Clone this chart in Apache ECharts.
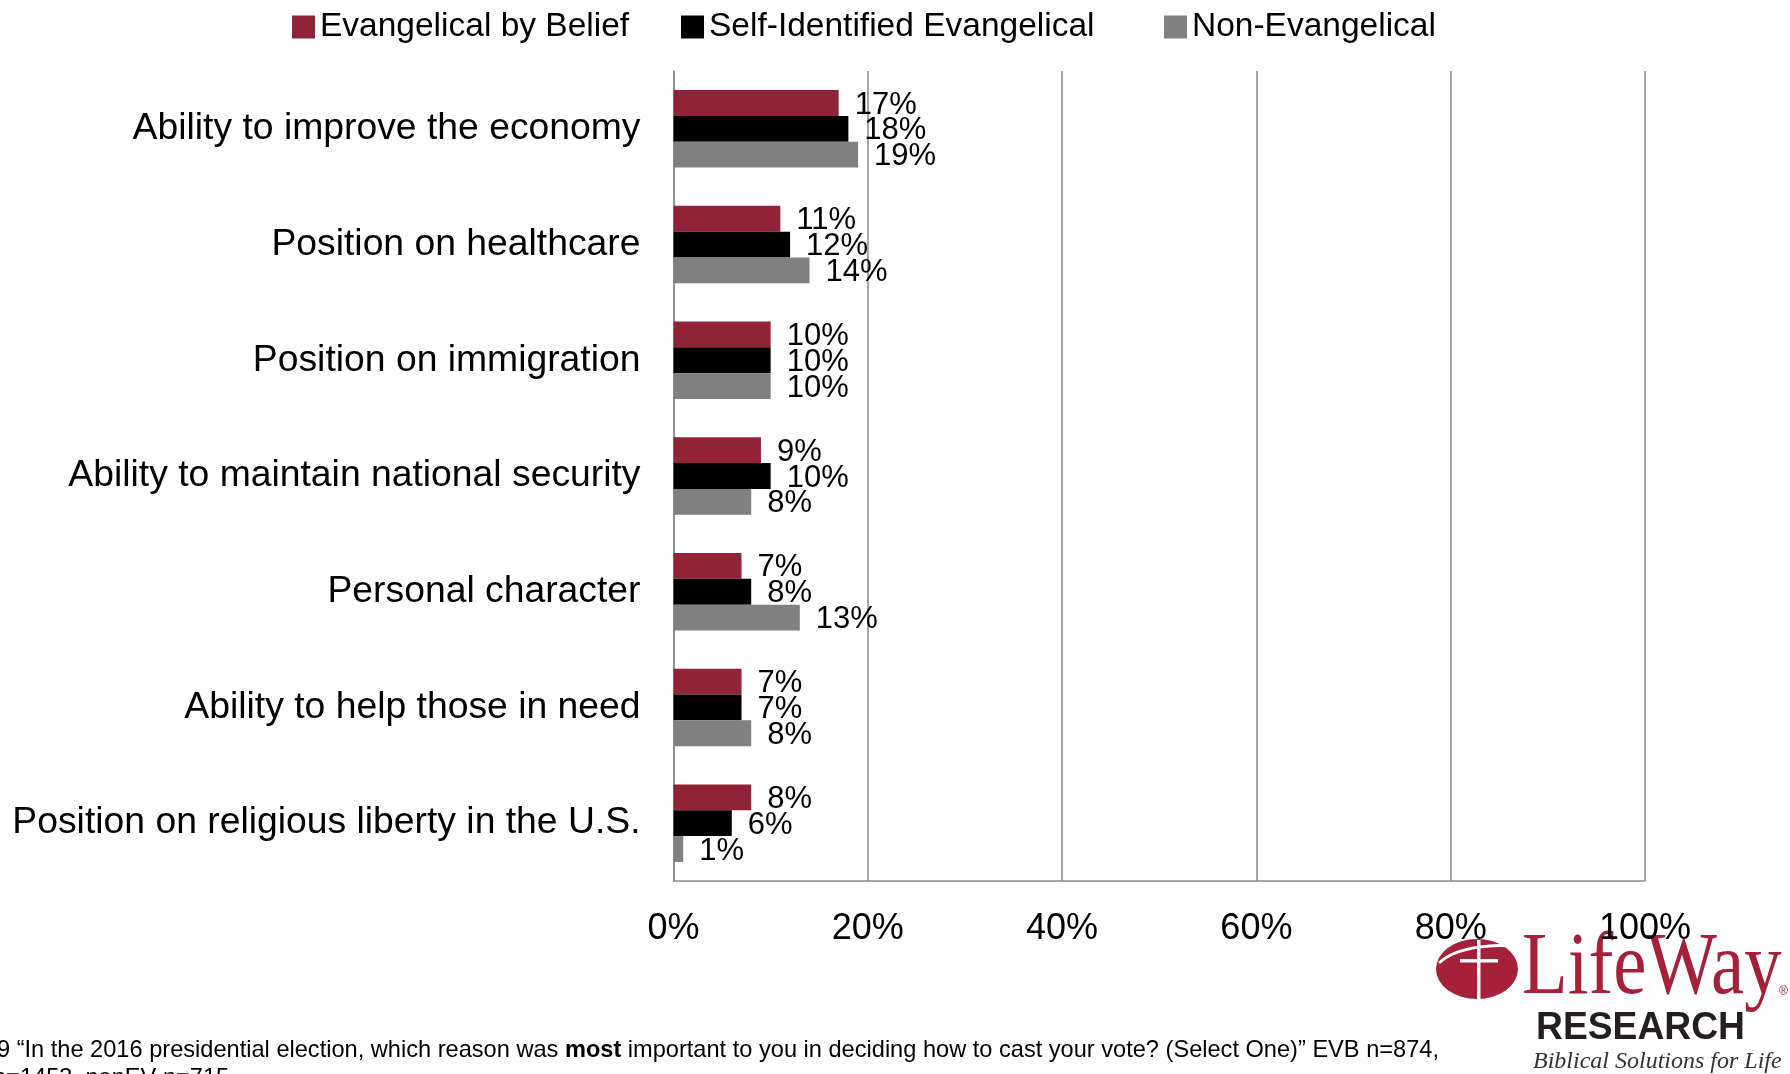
<!DOCTYPE html>
<html>
<head>
<meta charset="utf-8">
<title>Most important reason in deciding the 2016 vote</title>
<script src="https://cdn.jsdelivr.net/npm/echarts@6/dist/echarts.min.js"></script>
<style>
  html, body { margin: 0; padding: 0; background: #fff; }
  #chart { width: 1790px; height: 1074px; }
</style>
</head>
<body>
<div id="chart"></div>
<script>
// Reasons, listed top to bottom
const categories = [
  'Ability to improve the economy',
  'Position on healthcare',
  'Position on immigration',
  'Ability to maintain national security',
  'Personal character',
  'Ability to help those in need',
  'Position on religious liberty in the U.S.'
];

const seriesNames = ['Evangelical by Belief', 'Self-Identified Evangelical', 'Non-Evangelical'];

// Percent choosing each reason
const evangelicalByBelief = [17, 11, 10, 9, 7, 7, 8];
const selfIdentifiedEvangelical = [18, 12, 10, 10, 8, 7, 6];
const nonEvangelical = [19, 14, 10, 8, 13, 8, 1];

const xTicks = [0, 20, 40, 60, 80, 100];

const FONT = '"Liberation Sans", Arial, Helvetica, sans-serif';
const SERIF = '"Liberation Serif", "Times New Roman", serif';
const colors = ['#912338', '#000000', '#808080'];
const seriesValues = [evangelicalByBelief, selfIdentifiedEvangelical, nonEvangelical];

const chart = echarts.init(document.getElementById('chart'), null, { renderer: 'canvas' });

// One legend per series so each entry sits at its own spot on the top row
const legendLefts = [292, 681, 1164];
const legends = seriesNames.map((name, i) => ({
  data: [name],
  left: legendLefts[i],
  top: 10,
  padding: 0,
  itemWidth: 23,
  itemHeight: 23,
  icon: 'rect',
  textStyle: { fontFamily: FONT, fontSize: 33.5, color: '#000' }
}));

const series = seriesNames.map((name, i) => ({
  name: name,
  type: 'bar',
  data: seriesValues[i],
  barGap: '0%',
  barCategoryGap: '33%',
  itemStyle: { color: colors[i] },
  label: {
    show: true,
    position: 'right',
    distance: 16,
    offset: [0, 2],
    formatter: '{c}%',
    fontFamily: FONT,
    fontSize: 31,
    color: '#000'
  },
  emphasis: { disabled: true },
  animation: false
}));

const option = {
  animation: false,
  backgroundColor: '#ffffff',
  legend: legends,
  grid: { left: 673.5, right: 145, top: 71, bottom: 193, containLabel: false },
  xAxis: {
    type: 'value',
    min: xTicks[0],
    max: xTicks[xTicks.length - 1],
    interval: xTicks[1] - xTicks[0],
    axisLine: { show: true, lineStyle: { color: '#8a8a8a', width: 1.5 } },
    axisTick: { show: false },
    axisLabel: {
      formatter: '{value}%',
      fontFamily: FONT,
      fontSize: 36,
      color: '#000',
      margin: 30
    },
    splitLine: { show: true, lineStyle: { color: '#8a8a8a', width: 1.5 } }
  },
  yAxis: {
    type: 'category',
    data: categories,
    inverse: true,
    axisLine: { show: true, lineStyle: { color: '#8a8a8a', width: 1.5 } },
    axisTick: { show: false },
    axisLabel: {
      fontFamily: FONT,
      fontSize: 37.3,
      color: '#000',
      margin: 33
    }
  },
  series: series,
  graphic: [
    // Survey question footnote
    {
      type: 'text',
      x: -3,
      y: 1038,
      z: 50,
      style: {
        text: '9 \u201cIn the 2016 presidential election, which reason was {b|most} important to you in deciding how to cast your vote? (Select One)\u201d EVB n=874,',
        fontFamily: FONT,
        fontSize: 23.6,
        fill: '#000',
        verticalAlign: 'top',
        rich: { b: { fontFamily: FONT, fontSize: 23.6, fontWeight: 'bold', fill: '#000' } }
      }
    },
    {
      type: 'text',
      x: -7,
      y: 1066,
      z: 50,
      style: {
        text: 'n=1453, nonEV n=715',
        fontFamily: FONT,
        fontSize: 23.6,
        fill: '#000',
        verticalAlign: 'top'
      }
    },
    // LifeWay Research logo
    {
      type: 'group',
      z: 100,
      children: [
        {
          type: 'circle',
          x: 1477,
          y: 969,
          scaleX: 41 / 30,
          shape: { cx: 0, cy: 0, r: 30 },
          style: { fill: '#a42139' }
        },
        {
          type: 'rect',
          shape: { x: 1477, y: 940, width: 3.5, height: 59 },
          style: { fill: '#ffffff' }
        },
        {
          type: 'rect',
          shape: { x: 1460, y: 959, width: 38, height: 3.5 },
          style: { fill: '#ffffff' }
        },
        {
          type: 'bezierCurve',
          shape: { x1: 1439, y1: 963, x2: 1516, y2: 947, cpx1: 1458, cpy1: 945, cpx2: 1500, cpy2: 944 },
          style: { stroke: '#ffffff', lineWidth: 3, fill: null }
        },
        {
          type: 'text',
          x: 1522,
          y: 970,
          scaleX: 0.84,
          style: {
            text: 'LifeWay',
            fontFamily: SERIF,
            fontSize: 89,
            fill: '#a42139',
            verticalAlign: 'middle'
          }
        },
        {
          type: 'text',
          x: 1779,
          y: 992,
          style: {
            text: '\u00ae',
            fontFamily: FONT,
            fontSize: 12,
            fill: '#a42139',
            verticalAlign: 'middle'
          }
        },
        {
          type: 'text',
          x: 1536,
          y: 1029,
          scaleX: 0.98,
          style: {
            text: 'RESEARCH',
            fontFamily: FONT,
            fontWeight: 'bold',
            fontSize: 38,
            fill: '#231f20',
            verticalAlign: 'middle'
          }
        },
        {
          type: 'text',
          x: 1533,
          y: 1062,
          style: {
            text: 'Biblical Solutions for Life',
            fontFamily: SERIF,
            fontStyle: 'italic',
            fontSize: 24,
            fill: '#333333',
            verticalAlign: 'middle'
          }
        }
      ]
    }
  ]
};

chart.setOption(option);
</script>
</body>
</html>
